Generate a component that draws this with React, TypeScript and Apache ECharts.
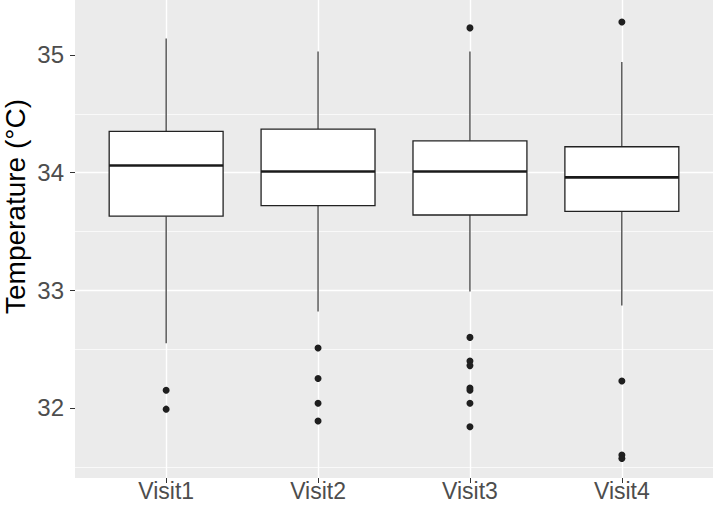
import React, { useEffect, useRef } from "react";
import * as echarts from "echarts";

const categories = ["Visit1", "Visit2", "Visit3", "Visit4"];
const whiskerLow = [32.55, 32.82, 32.99, 32.87];
const q1 = [33.63, 33.72, 33.64, 33.67];
const median = [34.06, 34.01, 34.01, 33.96];
const q3 = [34.35, 34.37, 34.27, 34.22];
const whiskerHigh = [35.14, 35.03, 35.03, 34.94];
const outliersVisit1 = [32.15, 31.99];
const outliersVisit2 = [32.51, 32.25, 32.04, 31.89];
const outliersVisit3 = [35.23, 32.6, 32.4, 32.36, 32.17, 32.15, 32.04, 31.84];
const outliersVisit4 = [35.28, 32.23, 31.6, 31.57];
const yTickValues = [32, 33, 34, 35];
const yMin = 31.405;
const yMax = 35.467;
const yTitle = "Temperature (°C)";

const FONT = "'Liberation Sans', Arial, Helvetica, sans-serif";

export default function App() {
  const ref = useRef<HTMLDivElement>(null);
  useEffect(() => {
    document.body.style.margin = "0";
    const chart = echarts.init(ref.current!, null, { renderer: "svg" });
    const boxData = categories.map((_, i) => [i, whiskerLow[i], q1[i], median[i], q3[i], whiskerHigh[i]]);
    const outlierGroups = [outliersVisit1, outliersVisit2, outliersVisit3, outliersVisit4];
    const outlierData: number[][] = [];
    outlierGroups.forEach((g, i) => g.forEach((v) => outlierData.push([i, v])));

    const panelLeft = 75;
    const panelRight = 0;
    const panelW = 713 - panelLeft - panelRight;
    const pad = (0.1 * panelW) / 4.2;

    chart.setOption({
      animation: false,
      backgroundColor: "#FFFFFF",
      grid: [
        {
          left: panelLeft,
          right: panelRight,
          top: 0,
          bottom: 27,
          show: true,
          backgroundColor: "#EBEBEB",
          borderWidth: 0,
          outerBoundsMode: "none",
        },
        {
          left: panelLeft + pad,
          right: panelRight + pad,
          top: 0,
          bottom: 27,
          outerBoundsMode: "none",
        },
      ],
      xAxis: [
        {
          type: "value",
          gridIndex: 0,
          min: 0.4,
          max: 4.6,
          axisLine: { show: false },
          axisTick: { show: false },
          axisLabel: { show: false },
          splitLine: {
            show: true,
            showMinLine: false,
            showMaxLine: false,
            lineStyle: { color: "#FFFFFF", width: 1.4 },
          },
        },
        {
          type: "category",
          gridIndex: 1,
          data: categories,
          boundaryGap: true,
          axisLine: { show: false },
          axisTick: {
            show: true,
            alignWithLabel: true,
            length: 5,
            lineStyle: { color: "#333333", width: 1 },
          },
          axisLabel: {
            fontSize: 23,
            lineHeight: 22,
            color: "#4D4D4D",
            fontFamily: FONT,
            margin: 2,
          },
          splitLine: { show: false },
        },
      ],
      yAxis: [
        {
          type: "value",
          gridIndex: 0,
          min: yMin,
          max: yMax,
          axisLine: { show: false },
          axisTick: {
            show: true,
            customValues: yTickValues,
            length: 5,
            lineStyle: { color: "#333333", width: 1 },
          },
          axisLabel: {
            customValues: yTickValues,
            fontSize: 24,
            color: "#4D4D4D",
            fontFamily: FONT,
            margin: 11,
          },
          splitLine: {
            show: true,
            showMinLine: false,
            showMaxLine: false,
            lineStyle: { color: "#FFFFFF", width: 1.4 },
          },
          minorTick: { show: false, splitNumber: 2 },
          minorSplitLine: { show: true, lineStyle: { color: "#FFFFFF", width: 0.7 } },
        },
        {
          type: "value",
          gridIndex: 1,
          min: yMin,
          max: yMax,
          show: false,
          splitLine: { show: false },
        },
      ],
      series: [
        {
          type: "custom",
          xAxisIndex: 1,
          yAxisIndex: 1,
          data: boxData,
          encode: { x: 0, y: [1, 2, 3, 4, 5] },
          z: 3,
          renderItem: (params: any, api: any) => {
            const x = api.value(0);
            const pLow = api.coord([x, api.value(1)]);
            const pQ1 = api.coord([x, api.value(2)]);
            const pMed = api.coord([x, api.value(3)]);
            const pQ3 = api.coord([x, api.value(4)]);
            const pHigh = api.coord([x, api.value(5)]);
            const bw = api.size([1, 0])[0] * 0.75;
            const cx = pMed[0];
            const lineStyle = { stroke: "#222222", lineWidth: 1.1 };
            return {
              type: "group",
              children: [
                { type: "line", shape: { x1: cx, y1: pHigh[1], x2: cx, y2: pQ3[1] }, style: lineStyle },
                { type: "line", shape: { x1: cx, y1: pQ1[1], x2: cx, y2: pLow[1] }, style: lineStyle },
                {
                  type: "rect",
                  shape: { x: cx - bw / 2, y: pQ3[1], width: bw, height: pQ1[1] - pQ3[1] },
                  style: { fill: "#FFFFFF", stroke: "#222222", lineWidth: 1.3 },
                },
                {
                  type: "line",
                  shape: { x1: cx - bw / 2, y1: pMed[1], x2: cx + bw / 2, y2: pMed[1] },
                  style: { stroke: "#1A1A1A", lineWidth: 2.6 },
                },
              ],
            };
          },
        },
        {
          type: "scatter",
          xAxisIndex: 1,
          yAxisIndex: 1,
          data: outlierData,
          symbol: "circle",
          symbolSize: 7,
          z: 4,
          itemStyle: { color: "#1F1F1F", borderWidth: 0, opacity: 1 },
        },
      ],
      graphic: [
        {
          type: "text",
          x: 15.5,
          y: 206.5,
          rotation: Math.PI / 2,
          style: {
            text: yTitle,
            fontSize: 28,
            fontFamily: FONT,
            fill: "#000000",
            align: "center",
            verticalAlign: "middle",
          },
        },
      ],
    });
    return () => chart.dispose();
  }, []);
  return (
    <div
      ref={ref}
      style={{ position: "absolute", left: 0, top: 0, width: 713, height: 505 }}
    />
  );
}
